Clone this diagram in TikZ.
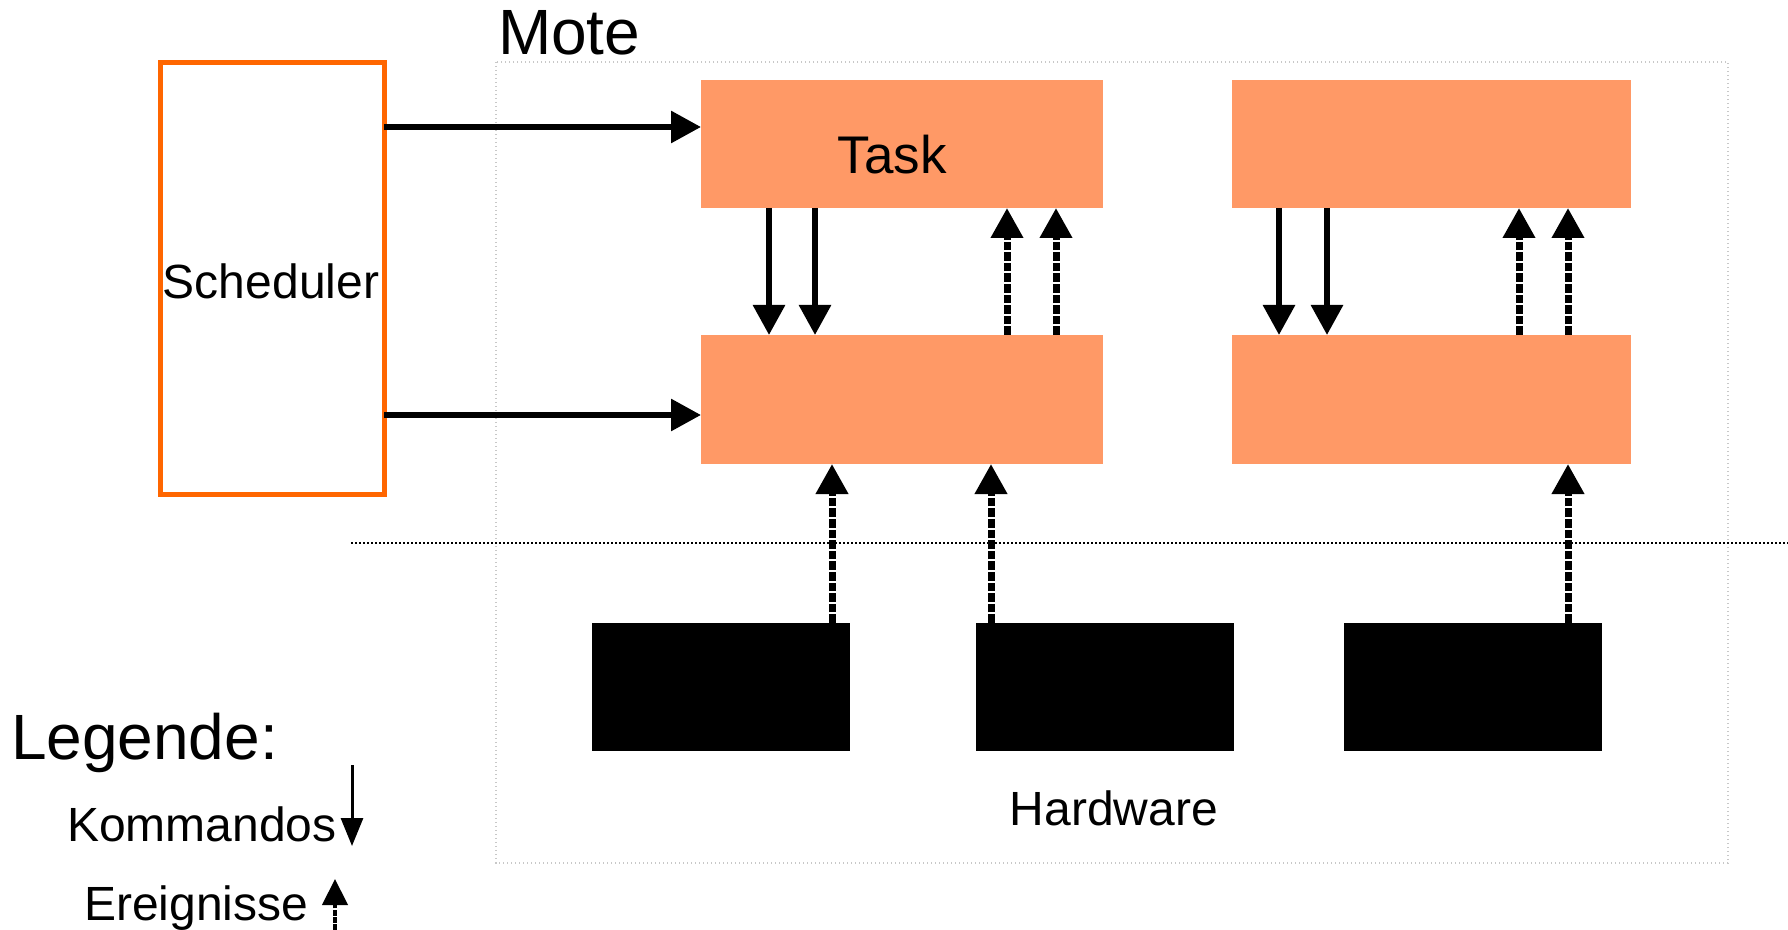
\documentclass[tikz,border=0pt]{standalone}
\usepackage{fontspec}
\setmainfont{Liberation Sans}
\usetikzlibrary{arrows.meta}

\definecolor{boxorange}{RGB}{255,153,102}
\definecolor{schedorange}{RGB}{255,102,0}
\definecolor{moteline}{RGB}{200,200,200}

\tikzset{
  layerbox/.style={fill=boxorange, draw=none, inner sep=0pt, outer sep=0pt},
  hwbox/.style={fill=black, draw=none, inner sep=0pt, outer sep=0pt,
                minimum width=129pt, minimum height=64pt},
  cmd/.style={line width=3pt, -{Triangle[width=15.5pt,length=15pt]}},
  evt/.style={line width=3.5pt, dash pattern=on 4.3pt off 1pt,
              -{Triangle[width=15.5pt,length=15pt]}},
  lbl/.style={inner sep=0pt, outer sep=0pt}
}

\begin{document}
\begin{tikzpicture}[x=0.5pt, y=-0.5pt]
  \useasboundingbox (0,0) rectangle (1788,930);

  % mote frame and layer separator
  \draw[moteline, line width=0.7pt, dash pattern=on 0.7pt off 1.3pt]
    (496,62) rectangle (1728,863);
  \node[lbl, anchor=base west, font=\fontsize{32}{38}\selectfont] (mote) at (498,55) {Mote};
  \draw[line width=1pt, dash pattern=on 1pt off 1pt] (351,543) -- (1788,543);

  % scheduler
  \node[draw=schedorange, line width=2.5pt, minimum width=112pt, minimum height=215.5pt,
        inner sep=0pt, outer sep=0pt] (sch) at (272,278.5) {};
  \node[lbl, anchor=base, font=\fontsize{24}{28}\selectfont] (schtxt) at (271,299) {Scheduler};

  % components
  \node[layerbox, minimum width=201pt, minimum height=64pt] (t1) at (902,144) {};
  \node[layerbox, minimum width=199.5pt, minimum height=64pt] (t2) at (1431.5,144) {};
  \node[layerbox, minimum width=201pt, minimum height=64.5pt] (l1) at (902,399.5) {};
  \node[layerbox, minimum width=199.5pt, minimum height=64.5pt] (l2) at (1431.5,399.5) {};
  \node[lbl, anchor=base, font=\fontsize{26.5}{31}\selectfont] (tasktxt) at (892,174) {Task};

  % hardware
  \node[hwbox] (h1) at (721,687) {};
  \node[hwbox] (h2) at (1104.5,687) {};
  \node[hwbox] (h3) at (1472.5,687) {};
  \node[lbl, anchor=base, font=\fontsize{24}{28}\selectfont] (hwtxt) at (1114,825) {Hardware};

  % scheduler triggers
  \draw[cmd] (sch.east |- 0,127) -- (t1.west |- 0,127);
  \draw[cmd] (sch.east |- 0,415) -- (l1.west |- 0,415);

  % commands (down) and events (up) between layers
  \draw[cmd] (t1.south -| 769,0) -- (l1.north -| 769,0);
  \draw[cmd] (t1.south -| 815,0) -- (l1.north -| 815,0);
  \draw[evt] (l1.north -| 1007,0) -- (t1.south -| 1007,0);
  \draw[evt] (l1.north -| 1056,0) -- (t1.south -| 1056,0);
  \draw[cmd] (t2.south -| 1279,0) -- (l2.north -| 1279,0);
  \draw[cmd] (t2.south -| 1327,0) -- (l2.north -| 1327,0);
  \draw[evt] (l2.north -| 1519,0) -- (t2.south -| 1519,0);
  \draw[evt] (l2.north -| 1568,0) -- (t2.south -| 1568,0);

  % hardware events
  \draw[evt] (h1.north -| 832,0) -- (l1.south -| 832,0);
  \draw[evt] (h2.north -| 991,0) -- (l1.south -| 991,0);
  \draw[evt] (h3.north -| 1568,0) -- (l2.south -| 1568,0);

  % legend
  \node[lbl, anchor=base west, font=\fontsize{32}{38}\selectfont] (leg) at (11,759) {Legende:};
  \node[lbl, anchor=base west, font=\fontsize{24}{28}\selectfont] (kom) at (67,841) {Kommandos};
  \node[lbl, anchor=base west, font=\fontsize{24}{28}\selectfont] (ere) at (84,920) {Ereignisse};
  \coordinate (komtop) at (352,765);
  \coordinate (kombot) at (352,846);
  \coordinate (erebot) at (335,930);
  \coordinate (eretop) at (335,879);
  \draw[line width=1.5pt, -{Triangle[width=11pt,length=14pt]}] (komtop) -- (kombot);
  \draw[line width=2.2pt, dash pattern=on 2.8pt off 0.8pt,
        -{Triangle[width=12.5pt,length=13pt]}] (erebot) -- (eretop);
\end{tikzpicture}
\end{document}
